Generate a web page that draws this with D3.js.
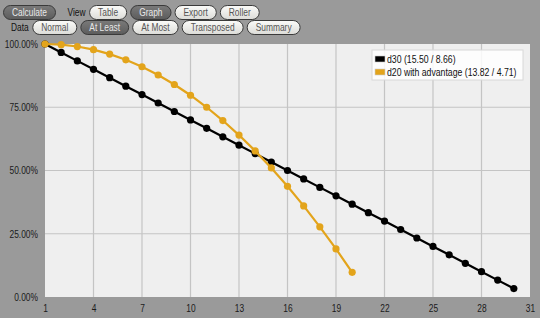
<!DOCTYPE html>
<html>
<head>
<meta charset="utf-8">
<script src="https://cdn.jsdelivr.net/npm/d3@7"></script>
<style>
  body { margin: 0; background: #9a9a9a; }
  svg { display: block; font-family: "Liberation Sans", Arial, sans-serif; }
</style>
</head>
<body>
<svg id="chart" width="540" height="318"></svg>
<script>
// values (probability "at least" k, in %)
const rolls = d3.range(1, 31);
const d30 = [100, 96.67, 93.33, 90, 86.67, 83.33, 80, 76.67, 73.33, 70,
  66.67, 63.33, 60, 56.67, 53.33, 50, 46.67, 43.33, 40, 36.67,
  33.33, 30, 26.67, 23.33, 20, 16.67, 13.33, 10, 6.67, 3.33];
const d20adv = [100, 99.75, 99, 97.75, 96, 93.75, 91, 87.75, 84, 79.75,
  75, 69.75, 64, 57.75, 51, 43.75, 36, 27.75, 19, 9.75];
const seriesNames = ["d30 (15.50 / 8.66)", "d20 with advantage (13.82 / 4.71)"];
const seriesColors = ["#000000", "#e3a41b"];
const xTicks = [1, 4, 7, 10, 13, 16, 19, 22, 25, 28, 31];
const yTicks = [0, 25, 50, 75, 100];

const topRow = ["Calculate", "View", "Table", "Graph", "Export", "Roller"];
const bottomRow = ["Data", "Normal", "At Least", "At Most", "Transposed", "Summary"];
const selected = ["Calculate", "Graph", "At Least"];

const SX = 0.8; // the screenshot text is narrow, squeeze it

const svg = d3.select("#chart");

// button gradients
const defs = svg.append("defs");
[["btnOff", "#fbfbf9", "#dcdcd8"], ["btnOn", "#7a7a7a", "#5c5c5c"]].forEach(([id, c1, c2]) => {
  const lgr = defs.append("linearGradient").attr("id", id)
    .attr("x1", 0).attr("y1", 0).attr("x2", 0).attr("y2", 1);
  lgr.append("stop").attr("offset", "0%").attr("stop-color", c1);
  lgr.append("stop").attr("offset", "100%").attr("stop-color", c2);
});

// text placed at x,y and squeezed horizontally
function narrow(sel, x, y, sx = SX) {
  return sel.attr("transform", `translate(${x},${y}) scale(${sx},1)`);
}

//--------------------------------//
// button bar
//--------------------------------//
function buttonRow(labels, y, x0) {
  let x = x0;
  labels.forEach(label => {
    const isText = label === "View" || label === "Data";
    const t = svg.append("text")
      .attr("font-size", 10.5)
      .text(label);
    const w = t.node().getComputedTextLength() * SX;
    if (isText) {
      narrow(t, x + 8, y + 10.5).attr("fill", "#111");
      x += w + 12;
      return;
    }
    const pad = 8.5;
    const on = selected.includes(label);
    svg.insert("rect", "text")
      .attr("x", x).attr("y", y)
      .attr("width", w + pad * 2).attr("height", 14)
      .attr("rx", 7)
      .attr("fill", on ? "url(#btnOn)" : "url(#btnOff)")
      .attr("stroke", "#3a3a3a")
      .attr("stroke-width", 1);
    narrow(t, x + pad, y + 10.5).attr("fill", on ? "#e8e8e8" : "#555");
    x += w + pad * 2 + 4;
  });
}
buttonRow(topRow, 5.5, 3.5);
buttonRow(bottomRow, 20.5, 3);

//--------------------------------//
// plot
//--------------------------------//
const margin = { left: 45, right: 10, top: 44, bottom: 21 };
const width = 540 - margin.left - margin.right;
const height = 318 - margin.top - margin.bottom;

const x = d3.scaleLinear().domain([1, 31]).range([0, width]);
const y = d3.scaleLinear().domain([0, 100]).range([height, 0]);

const g = svg.append("g").attr("transform", `translate(${margin.left},${margin.top})`);

g.append("rect")
  .attr("width", width).attr("height", height)
  .attr("fill", "#efefef");

// grid
g.selectAll(".vgrid").data(xTicks.slice(1, -1)).join("line")
  .attr("x1", d => x(d)).attr("x2", d => x(d))
  .attr("y1", 0).attr("y2", height)
  .attr("stroke", "#c4c4c4").attr("stroke-width", 1.2);
g.selectAll(".hgrid").data(yTicks.slice(1, -1)).join("line")
  .attr("x1", 0).attr("x2", width)
  .attr("y1", d => y(d)).attr("y2", d => y(d))
  .attr("stroke", "#c4c4c4").attr("stroke-width", 1.2);

// axes
const yAxis = g.append("g")
  .call(d3.axisLeft(y).tickValues(yTicks).tickSize(0).tickPadding(7)
    .tickFormat(d => d.toFixed(2) + "%"));
const xAxis = g.append("g").attr("transform", `translate(0,${height})`)
  .call(d3.axisBottom(x).tickValues(xTicks).tickSize(0).tickPadding(8));
[xAxis, yAxis].forEach(a => {
  a.attr("font-family", null);
  a.select(".domain").remove();
  a.selectAll("text")
    .attr("font-size", 10.5).attr("fill", "#1a1a1a")
    .attr("transform", `scale(${SX},1)`);
});
yAxis.selectAll("text").attr("x", -7 / SX);

// series
const line = d3.line().x(d => x(d[0])).y(d => y(d[1]));
const series = [d30, d20adv].map((vals, i) => ({
  pts: vals.map((v, k) => [rolls[k], v]),
  color: seriesColors[i]
}));

series.forEach(s => {
  g.append("path").datum(s.pts)
    .attr("d", line)
    .attr("fill", "none")
    .attr("stroke", s.color)
    .attr("stroke-width", 2.2);
  g.selectAll(null).data(s.pts).join("circle")
    .attr("cx", d => x(d[0])).attr("cy", d => y(d[1]))
    .attr("r", 3.6)
    .attr("fill", s.color);
});

//--------------------------------//
// legend
//--------------------------------//
const lg = svg.append("g").attr("transform", "translate(372,50)");
lg.append("rect")
  .attr("width", 151).attr("height", 30)
  .attr("fill", "rgba(255,255,255,0.85)")
  .attr("stroke", "#d8d8d8");
seriesNames.forEach((name, i) => {
  lg.append("rect")
    .attr("x", 3).attr("y", 6 + i * 13)
    .attr("width", 10).attr("height", 6)
    .attr("fill", seriesColors[i])
    .attr("stroke", "#ccc").attr("stroke-width", 0.6);
  const t = lg.append("text")
    .attr("font-size", 10)
    .attr("fill", "#111")
    .text(name);
  narrow(t, 15, 13 + i * 13, 0.87);
});
</script>
</body>
</html>
